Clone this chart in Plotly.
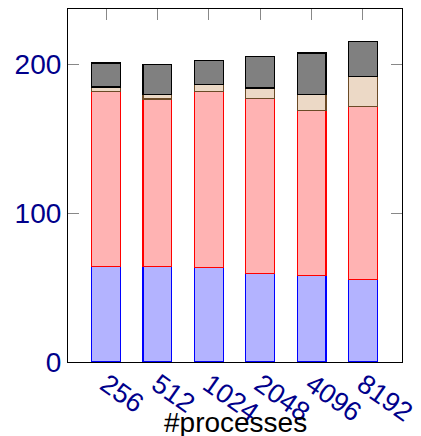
import plotly.graph_objects as go

categories = ["256", "512", "1024", "2048", "4096", "8192"]
blue_vals = [64.3, 63.9, 63.2, 59.6, 58.3, 55.2]
red_vals = [117.4, 112.7, 118.5, 117.5, 110.7, 116.5]
beige_vals = [3.0, 2.9, 4.7, 6.9, 10.5, 19.9]
gray_vals = [16.1, 20.0, 16.2, 21.2, 28.0, 23.5]
y_ticks = [0, 100, 200]

series = [
    (blue_vals, "#b3b3ff", "#0000ff"),
    (red_vals, "#ffb3b3", "#ff0000"),
    (beige_vals, "#ecd9c6", "#6b4a26"),
    (gray_vals, "#808080", "#000000"),
]

fig = go.Figure()
for vals, fill, edge in series:
    fig.add_trace(go.Bar(
        x=categories, y=vals, width=0.56,
        marker=dict(color=fill, line=dict(color=edge, width=1.2)),
        showlegend=False,
    ))

font_family = "Liberation Sans, Arial, sans-serif"
tick_color = "#00008b"

fig.update_layout(
    barmode="stack",
    width=421, height=436,
    margin=dict(l=68, r=19, t=9, b=74, autoexpand=False),
    plot_bgcolor="white", paper_bgcolor="white",
    font=dict(family=font_family),
    xaxis=dict(
        type="category", range=[-0.74, 5.76], automargin=False,
        showline=True, linecolor="black", linewidth=1.2, mirror="ticks",
        ticks="inside", ticklen=11, tickcolor="#888888", tickwidth=1,
        tickangle=35, tickfont=dict(size=27, color=tick_color),
        ticklabelstandoff=-5,
        layer="below traces", showgrid=False,
    ),
    yaxis=dict(
        range=[0, 237], tickvals=y_ticks, automargin=False,
        showline=True, linecolor="black", linewidth=1.2, mirror="ticks",
        ticks="inside", ticklen=11, tickcolor="#888888", tickwidth=1,
        tickfont=dict(size=28, color=tick_color),
        showgrid=False, zeroline=False,
    ),
    annotations=[dict(
        text="#processes", xref="paper", yref="paper",
        x=0.5, y=-0.122, xanchor="center", yanchor="top", showarrow=False,
        font=dict(size=28, color="black", family=font_family),
    )],
)

fig.write_html("out.html", config={"displayModeBar": False},
               post_script="document.body.style.margin='0';")
